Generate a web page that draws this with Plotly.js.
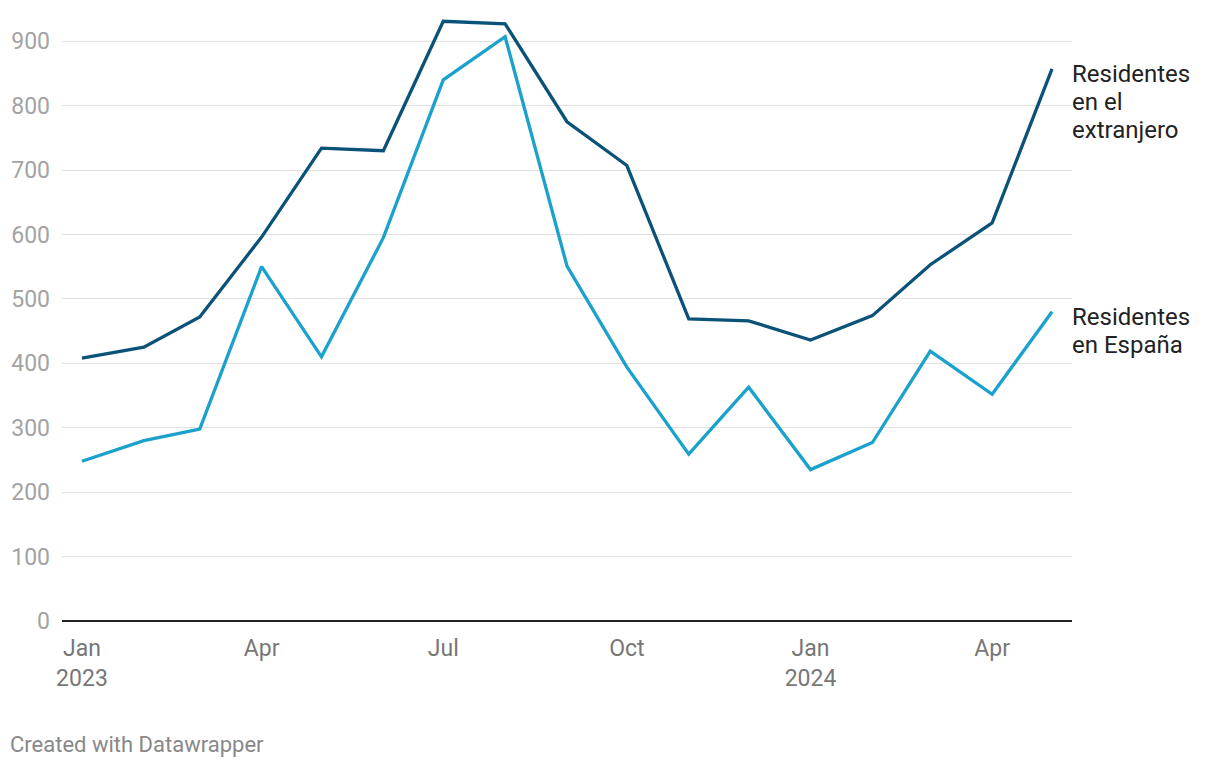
<!DOCTYPE html>
<html>
<head>
<meta charset="utf-8">
<script src="https://cdn.plot.ly/plotly-3.0.1.min.js"></script>
<style>
  html, body { margin: 0; padding: 0; background: #fff; }
  #chart { width: 1220px; height: 768px; }
</style>
</head>
<body>
<div id="chart"></div>
<script>
// monthly series, Jan 2023 – May 2024
const MONTHS = [
  '2023-01-01', '2023-02-01', '2023-03-01', '2023-04-01', '2023-05-01', '2023-06-01',
  '2023-07-01', '2023-08-01', '2023-09-01', '2023-10-01', '2023-11-01', '2023-12-01',
  '2024-01-01', '2024-02-01', '2024-03-01', '2024-04-01', '2024-05-01'
];
const EXTRANJERO = [408, 425, 472, 596, 734, 730, 931, 927, 775, 707, 469, 466, 436, 474, 553, 618, 857];
const ESPANA     = [248, 280, 298, 550, 410, 595, 840, 907, 551, 394, 259, 363, 235, 277, 419, 352, 480];

const TICK_VALS = ['2023-01-01', '2023-04-01', '2023-07-01', '2023-10-01', '2024-01-01', '2024-04-01'];
const TICK_TEXT = ['Jan<br>2023', 'Apr', 'Jul', 'Oct', 'Jan<br>2024', 'Apr'];
const Y_TICKS = [0, 100, 200, 300, 400, 500, 600, 700, 800, 900];

const SERIES = [
  { lines: ['Residentes', 'en el', 'extranjero'], y: EXTRANJERO, color: '#0b5279' },
  { lines: ['Residentes', 'en España'], y: ESPANA, color: '#1aa1cc' },
];

const FONT = 'Roboto, "Noto Sans", sans-serif';
const last = MONTHS.length - 1;
const LINE_H = 28; // label line spacing, px

const traces = SERIES.map(s => ({
  x: MONTHS, y: s.y, type: 'scatter', mode: 'lines',
  line: { color: s.color, width: 3.3 },
  hoverinfo: 'skip', showlegend: false,
}));

// direct labels, one annotation per line so the spacing stays tight
const annotations = [];
SERIES.forEach(s => {
  s.lines.forEach((txt, i) => {
    annotations.push({
      x: MONTHS[last], y: s.y[last], xref: 'x', yref: 'y',
      text: txt, showarrow: false,
      xanchor: 'left', yanchor: 'middle', align: 'left',
      xshift: 18, yshift: -5 - i * LINE_H,
      font: { family: FONT, size: 24, color: '#222' },
    });
  });
});

annotations.push({
  xref: 'paper', yref: 'paper', x: -54 / 1010, y: -(745 - 621.5) / 612.5,
  xanchor: 'left', yanchor: 'middle', text: 'Created with Datawrapper',
  showarrow: false, font: { family: FONT, size: 22, color: '#888' },
});

const layout = {
  width: 1220, height: 768,
  margin: { l: 62, r: 148, t: 9, b: 146.5 },
  paper_bgcolor: '#fff', plot_bgcolor: '#fff',
  font: { family: FONT },
  xaxis: {
    type: 'date', range: ['2022-12-22', '2024-05-11'],
    tickvals: TICK_VALS, ticktext: TICK_TEXT,
    showgrid: false, zeroline: false, showline: false, ticks: '',
    ticklabelstandoff: 11,
    tickfont: { family: FONT, size: 23, color: '#777' },
    fixedrange: true,
  },
  yaxis: {
    range: [0, 950], tickvals: Y_TICKS,
    showgrid: true, gridcolor: '#e1e1e1', gridwidth: 1,
    zeroline: true, zerolinecolor: '#222', zerolinewidth: 2,
    showline: false, ticks: '', ticklabelstandoff: 11,
    tickfont: { family: FONT, size: 23, color: '#a3a3a3' },
    fixedrange: true,
  },
  annotations,
};

Plotly.newPlot('chart', traces, layout, { displayModeBar: false, staticPlot: true });
</script>
</body>
</html>
